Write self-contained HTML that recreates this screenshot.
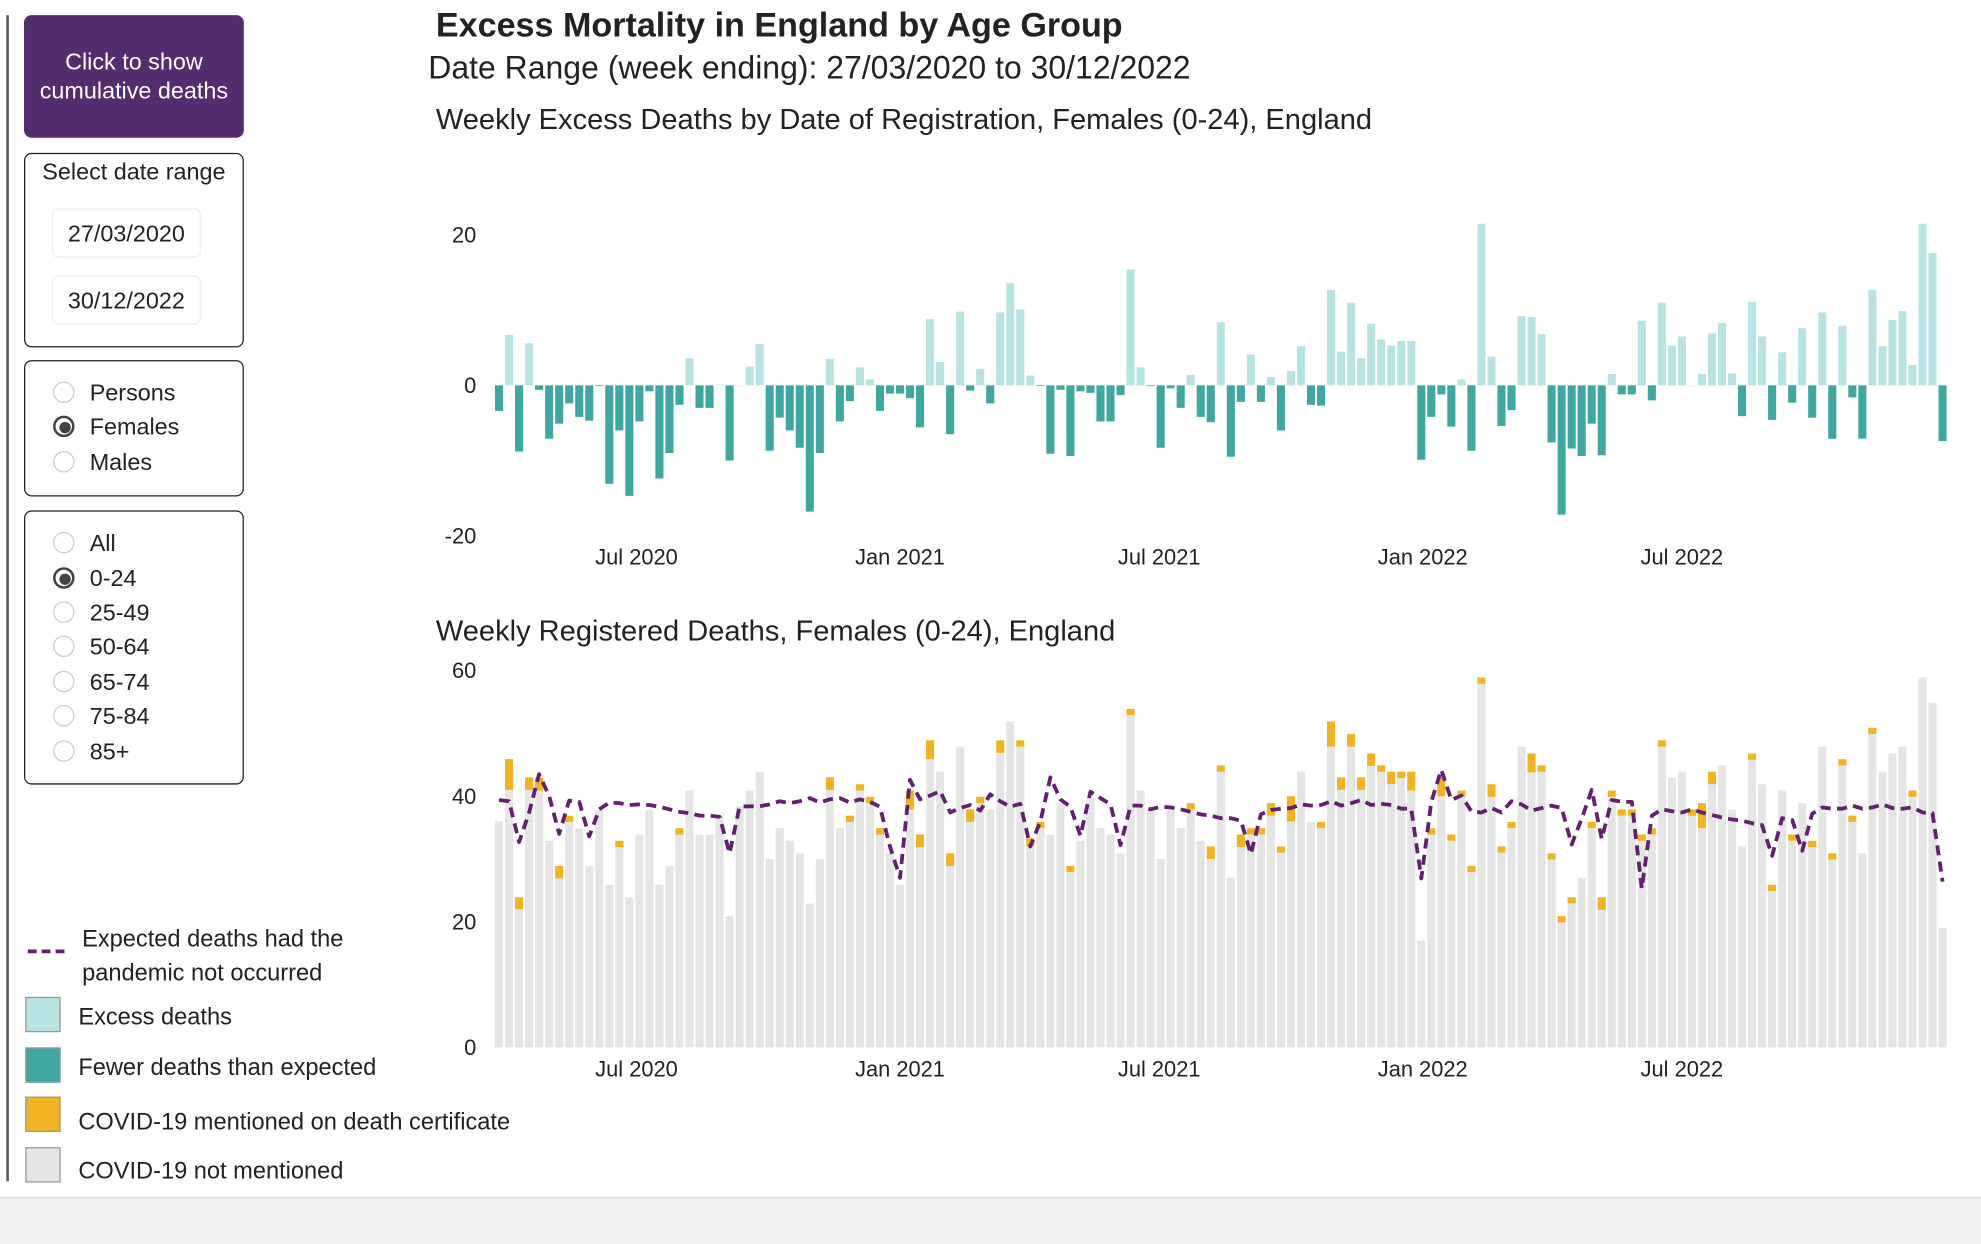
<!DOCTYPE html>
<html><head><meta charset="utf-8">
<style>
html,body{margin:0;padding:0;background:#fff;overflow:hidden;}
body{width:1981px;height:1242px;font-family:"Liberation Sans",Arial,sans-serif;color:#222;}
#wrap{position:absolute;left:0;top:0;width:1568px;height:983px;transform:scale(1.26339);transform-origin:0 0;}
.abs{position:absolute;}
.box{position:absolute;left:19px;width:172px;border:1.5px solid #222;border-radius:6px;background:#fff;}
.radio{position:absolute;left:22px;width:17px;height:17px;border:1px solid #ccc;border-radius:50%;box-sizing:border-box;background:#fff;}
.radio.on{border:2px solid #444;}
.radio.on::after{content:"";position:absolute;left:2.5px;top:2.5px;width:9px;height:9px;border-radius:50%;background:#444;}
.rlabel{position:absolute;left:51px;font-size:18.5px;line-height:20px;}
.dinput{position:absolute;left:21px;width:116px;height:37px;border:1px solid #eee;border-radius:5px;font-size:18.5px;line-height:37px;text-align:center;}
.sw{position:absolute;left:20px;width:28px;height:28px;box-sizing:border-box;border:1px solid #999;}
.lt{position:absolute;left:62px;font-size:18.7px;}
svg text{font-family:"Liberation Sans",Arial,sans-serif;}
</style></head>
<body>
<div id="wrap">
  <div class="abs" style="left:5px;top:12px;width:2px;height:923px;background:#555"></div>
  <div class="abs" style="left:19px;top:12px;width:174px;height:97px;background:#532d6d;border-radius:6px;color:#fff;font-size:18.5px;line-height:23px;text-align:center;box-sizing:border-box;padding-top:25px;">Click to show<br>cumulative deaths</div>

  <div class="box" style="top:121px;height:152px">
    <div class="abs" style="left:0;width:100%;top:3px;text-align:center;font-size:18.5px">Select date range</div>
    <div class="dinput" style="top:43px">27/03/2020</div>
    <div class="dinput" style="top:96px">30/12/2022</div>
  </div>

  <div class="box" style="top:285px;height:106px">
    <div class="radio" style="top:16px"></div><div class="rlabel" style="top:15px">Persons</div>
    <div class="radio on" style="top:43px"></div><div class="rlabel" style="top:42px">Females</div>
    <div class="radio" style="top:71px"></div><div class="rlabel" style="top:70px">Males</div>
  </div>

  <div class="box" style="top:404px;height:215px">
    <div class="radio" style="top:16px"></div><div class="rlabel" style="top:15px">All</div>
    <div class="radio on" style="top:44px"></div><div class="rlabel" style="top:43px">0-24</div>
    <div class="radio" style="top:71px"></div><div class="rlabel" style="top:70px">25-49</div>
    <div class="radio" style="top:98px"></div><div class="rlabel" style="top:97px">50-64</div>
    <div class="radio" style="top:126px"></div><div class="rlabel" style="top:125px">65-74</div>
    <div class="radio" style="top:153px"></div><div class="rlabel" style="top:152px">75-84</div>
    <div class="radio" style="top:181px"></div><div class="rlabel" style="top:180px">85+</div>
  </div>

  <div>
    <svg class="abs" style="left:20px;top:748px" width="34" height="10"><line x1="2" y1="5" x2="32" y2="5" stroke="#62206e" stroke-width="3" stroke-dasharray="7,4"/></svg>
    <div class="abs" style="left:65px;top:729px;font-size:18.7px;line-height:27px">Expected deaths had the<br>pandemic not occurred</div>
    <div class="sw" style="top:789px;background:#b9e3e3"></div>
    <div class="lt" style="top:794px">Excess deaths</div>
    <div class="sw" style="top:829px;background:#3fa6a0"></div>
    <div class="lt" style="top:834px">Fewer deaths than expected</div>
    <div class="sw" style="top:868px;background:#f0b323"></div>
    <div class="lt" style="top:877px">COVID-19 mentioned on death certificate</div>
    <div class="sw" style="top:908px;background:#e5e5e5"></div>
    <div class="lt" style="top:916px">COVID-19 not mentioned</div>
  </div>

  <div class="abs" style="left:0;top:947px;width:1568px;height:36px;background:#f1f1f1;border-top:2px solid #e2e2e2"></div>

  <div class="abs" style="left:345px;top:5px;font-size:27px;font-weight:bold">Excess Mortality in England by Age Group</div>
  <div class="abs" style="left:339px;top:40px;font-size:25.3px">Date Range (week ending): 27/03/2020 to 30/12/2022</div>
  <div class="abs" style="left:345px;top:81px;font-size:23px">Weekly Excess Deaths by Date of Registration, Females (0-24), England</div>
  <div class="abs" style="left:345px;top:486px;font-size:23px">Weekly Registered Deaths, Females (0-24), England</div>

  <svg id="charts" class="abs" style="left:0;top:0" width="1568" height="983"></svg>
</div>
<script>
const excess = [-3.4,6.7,-8.8,5.6,-0.6,-7.1,-5.1,-2.4,-4.2,-4.7,-0.1,-13.1,-6,-14.7,-4.8,-0.8,-12.4,-9,-2.6,3.6,-3,-3,0.1,-10,0.05,2.5,5.5,-8.7,-4.3,-6,-8.3,-16.8,-9,3.5,-4.8,-2.1,2.4,0.8,-3.4,-1.1,-1.1,-1.7,-5.6,8.8,3.1,-6.5,9.8,-0.7,2.2,-2.4,
9.7,13.6,10.1,1.3,-0.1,-9.1,-0.6,-9.4,-0.8,-1,-4.8,-4.8,-1.3,15.4,2.4,-0.1,-8.3,-0.4,-3,1.4,-4.2,-4.9,8.4,-9.5,-2.2,4.1,-2.2,1.1,-6,1.9,5.2,-2.6,-2.7,12.7,4.5,11,3.6,8.2,6.1,5.3,5.9,5.9,-9.9,-4.2,-1.2,-5.5,0.8,-8.7,21.5,
3.8,-5.4,-3.3,9.2,9.1,6.8,-7.6,-17.2,-8.4,-9.4,-5.1,-9.3,1.5,-1.2,-1.2,8.6,-2,11,5.3,6.5,0,1.5,6.9,8.3,1.6,-4.1,11.1,6.5,-4.6,4.4,-2.3,7.6,-4.3,9.7,-7.1,7.9,-1.6,-7.1,12.7,5.2,8.7,9.9,2.7,21.5,17.6,-7.4];
const totalDeaths = [36,45.9,23.9,43,42.9,32.9,28.9,36.9,34.9,28.9,37.8,25.9,32.9,23.9,33.9,37.8,25.9,28.9,34.9,40.9,33.9,33.9,36.8,20.9,38.4,40.9,43.9,30,34.9,32.9,30.9,22.9,30,43,34.9,36.9,41.9,39.9,34.9,30.9,25.9,40.9,33.9,48.9,43.9,30.9,47.9,37.9,39.9,37.9,
48.9,51.9,48.9,33.3,35.9,33.9,38.9,28.9,32.9,39.7,34.9,33.9,30.9,53.9,40.9,37.8,30,37.8,34.9,38.9,32.9,32,44.9,27,33.9,34.9,34.9,38.9,32,40,43.9,35.9,35.9,51.9,43,49.9,43,46.8,44.9,43.9,43.9,43.9,17,34.9,43,33.9,40.9,28.9,58.9,
41.9,32,35.9,47.9,46.8,44.9,30.9,20.9,23.9,27,35.9,23.9,40.9,37.9,37.9,33.9,34.9,48.9,42.9,43.9,37.9,38.9,43.9,44.9,37.9,32,46.8,41.9,25.9,40.9,33.9,38.9,32.9,47.9,30.9,45.9,36.9,30.9,50.9,43.9,46.8,47.9,40.9,58.9,54.9,19];
const covidDeaths = [0,4.9,1.9,2,2,0,2,1,0,0,0,0,1,0,0,0,0,0,1,0,0,0,0,0,0,0,0,0,0,0,0,0,0,2,0,1,1,1,1,0,0,3,2,3,0,2,0,2,1,0,
2,0,1,1.3,1,0,0,1,0,0,0,0,0,1,0,0,0,0,0,1,0,2,1,0,2,1,1,2,1,4,0,0,1,4,2,2,2,2,1,2,1,3,0,1,3,1,1,1,1,
2,1,1,0,3,1,1,1,1,0,1,2,1,1,1,1,1,1,0,0,1,4,2,0,0,0,1,0,1,0,1,0,1,0,1,1,1,0,1,0,0,0,1,0,0,0];
const topTicks = [20,0,-20];
const bottomTicks = [60,40,20,0];
const xTickLabels = ["Jul 2020","Jan 2021","Jul 2021","Jan 2022","Jul 2022"];
const xTickDates = ["2020-07-01","2021-01-01","2021-07-01","2022-01-01","2022-07-01"];
const firstWeek = "2020-03-27";

const NS = "http://www.w3.org/2000/svg";
const svg = document.getElementById('charts');
const DAY = 86400000;
const t0 = Date.parse(firstWeek);
const xDate = d => 395 + (Date.parse(d) - t0) / DAY * 1.1335;
const xWeek = i => 395 + i * 7 * 1.1335;
const yTop = v => 305 - v * 5.95;
const yBot = v => 829 - v * 4.97;
const BW = 6.4;
function mk(tag, attrs){const e=document.createElementNS(NS,tag);for(const k in attrs)e.setAttribute(k,attrs[k]);svg.appendChild(e);return e;}

topTicks.forEach(v=>{
  const t=mk('text',{x:377,y:yTop(v)+6,'text-anchor':'end','font-size':17.3,fill:'#222'});
  t.textContent=v;
  
  
});
bottomTicks.forEach(v=>{
  const t=mk('text',{x:377,y:yBot(v)+6,'text-anchor':'end','font-size':17.3,fill:'#222'});
  t.textContent=v;
  
  
});
xTickLabels.forEach((lab,i)=>{
  [447,852].forEach(yy=>{
    const t=mk('text',{x:xDate(xTickDates[i]),y:yy,'text-anchor':'middle','font-size':17.3,fill:'#222'});
    t.textContent=lab;
    
    
  });
});

excess.forEach((v,i)=>{
  const x=xWeek(i)-BW/2;
  const y0=yTop(0), y1=yTop(v);
  const r=mk('rect',{x:x,y:Math.min(y0,y1),width:BW,height:Math.max(0.3,Math.abs(y1-y0)),fill:v>=0?'#b9e3e3':'#3fa6a0'});
  
  
});

const expected = totalDeaths.map((t,i)=>t-excess[i]);
totalDeaths.forEach((t,i)=>{
  const x=xWeek(i)-BW/2;
  const c=covidDeaths[i];
  const nm=t-c;
  const g=mk('rect',{x:x,y:yBot(nm),width:BW,height:yBot(0)-yBot(nm),fill:'#e5e5e5'});
  
  
  if(c>0){
    const o=mk('rect',{x:x,y:yBot(t),width:BW,height:yBot(nm)-yBot(t),fill:'#f0b323'});
    
    
  }
});
const pts=expected.map((e,i)=>xWeek(i).toFixed(1)+','+yBot(e).toFixed(1)).join(' ');
const line=mk('polyline',{points:pts,fill:'none',stroke:'#62206e','stroke-width':3,'stroke-dasharray':'8,5','stroke-linejoin':'round'});


</script>
</body></html>
